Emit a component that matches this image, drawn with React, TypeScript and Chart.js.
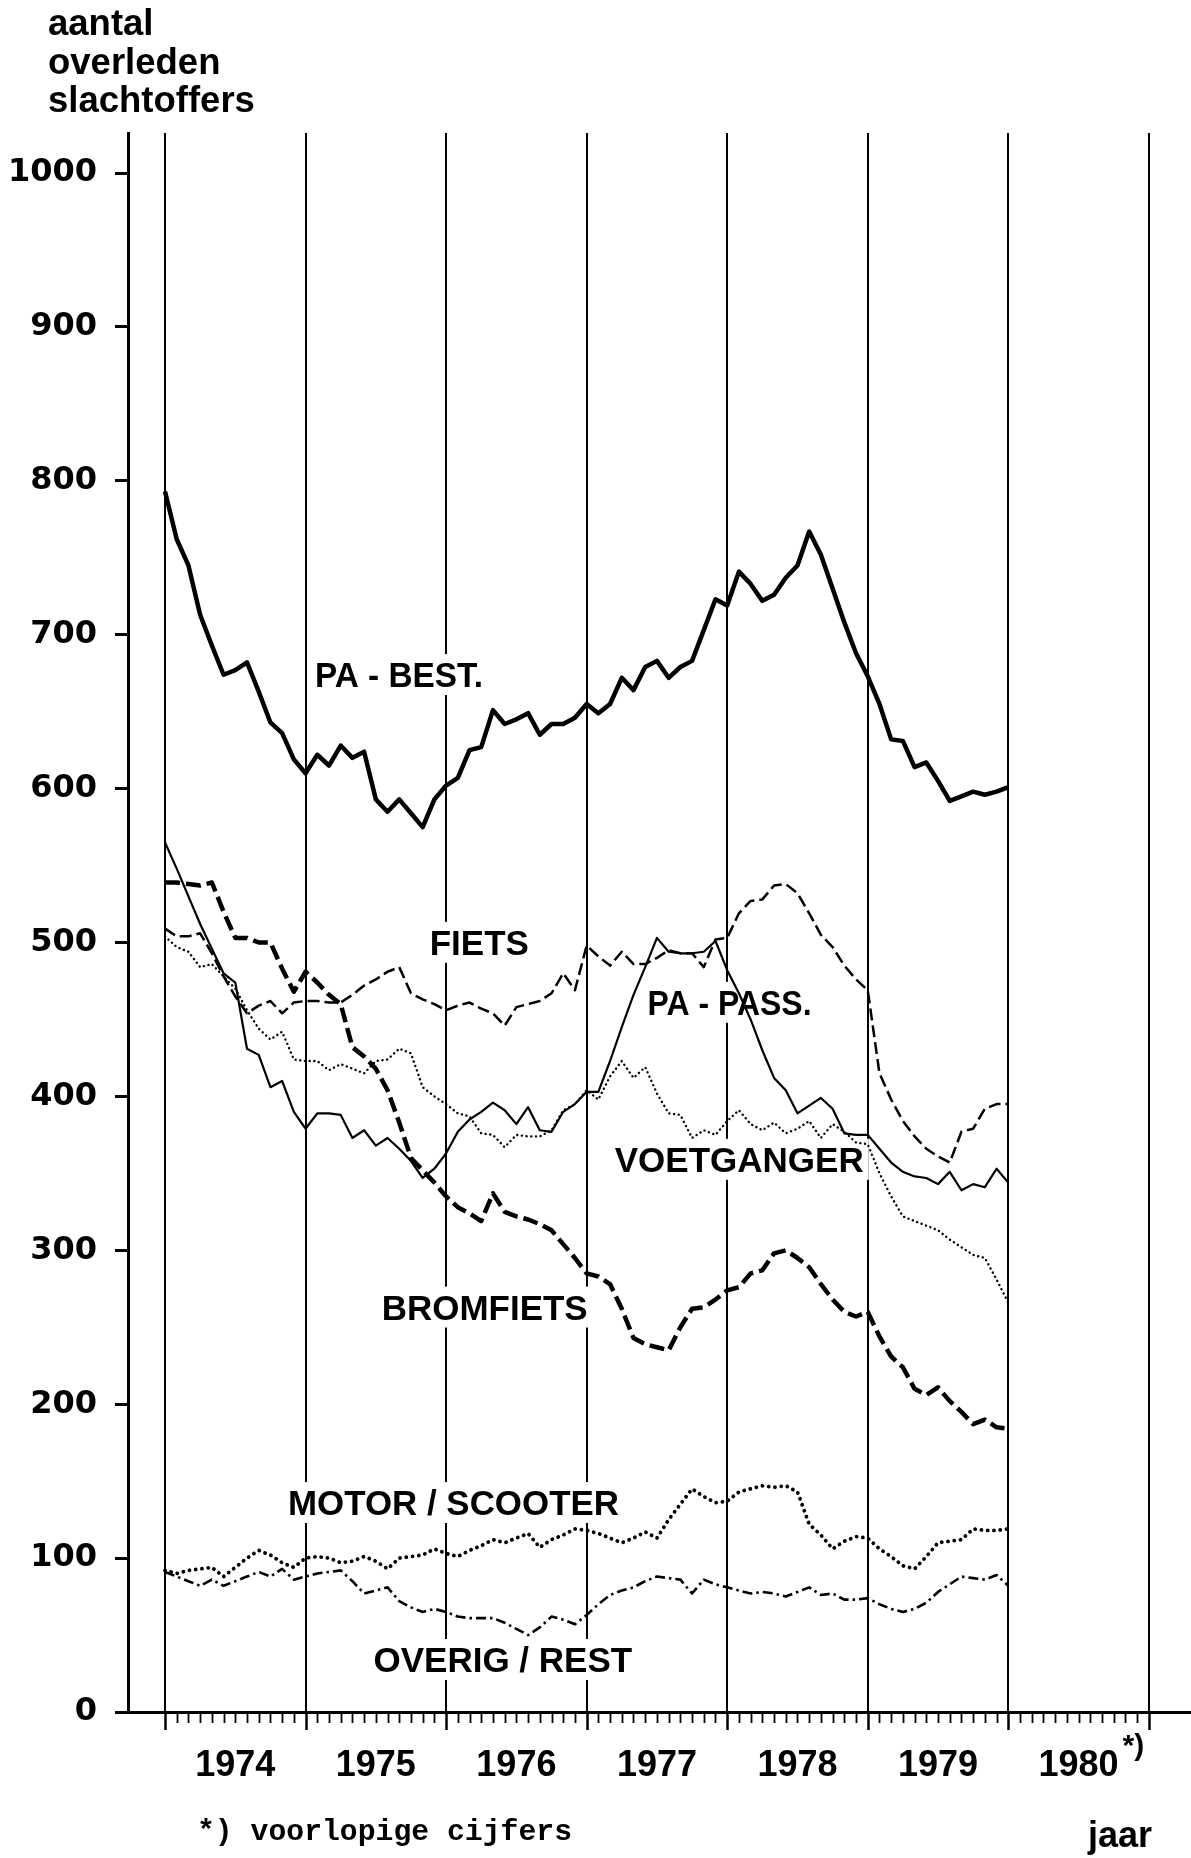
import React, { useEffect, useRef } from 'react';
import { Chart, registerables } from 'chart.js';

Chart.register(...registerables);

// months since the start of 1974 (moving yearly totals, one point per month)
const months = Array.from({ length: 73 }, (_, i) => i);
const yearLabels = ['1974', '1975', '1976', '1977', '1978', '1979', '1980'];
const yTickValues = [0, 100, 200, 300, 400, 500, 600, 700, 800, 900, 1000];

const paBest = [793, 762, 745, 713, 693, 674, 677, 682, 663, 643, 636, 619, 610, 622, 615, 628, 620, 624, 593, 585, 593, 584, 575, 593, 602, 607, 625, 627, 651, 642, 645, 649, 635, 642, 642, 646, 655, 649, 655, 672, 664, 679, 683, 672, 679, 683, 703, 723, 719, 741, 733, 722, 726, 737, 745, 767, 752, 730, 708, 688, 673, 655, 632, 631, 614, 617, 605, 592, 595, 598, 596, 598, 601];
const paPass = [565, 548, 530, 512, 496, 480, 474, 431, 427, 406, 410, 390, 379, 389, 389, 388, 373, 378, 368, 373, 366, 358, 347, 353, 363, 377, 385, 390, 396, 391, 382, 393, 378, 377, 390, 395, 403, 403, 423, 445, 466, 484, 503, 494, 493, 493, 494, 501, 482, 467, 450, 430, 412, 404, 389, 394, 399, 392, 376, 375, 375, 366, 357, 351, 348, 347, 343, 351, 339, 343, 341, 353, 344];
const fiets = [509, 504, 504, 506, 493, 478, 465, 454, 459, 462, 454, 461, 462, 462, 461, 461, 466, 472, 476, 481, 484, 467, 463, 460, 456, 459, 461, 457, 454, 446, 458, 460, 462, 467, 480, 469, 498, 491, 485, 494, 486, 486, 490, 495, 493, 493, 484, 502, 503, 519, 527, 528, 537, 538, 532, 519, 505, 497, 485, 476, 469, 415, 398, 384, 374, 366, 361, 357, 377, 379, 392, 395, 395];
const bromfiets = [539, 539, 538, 537, 539, 520, 503, 503, 500, 500, 483, 468, 481, 474, 466, 460, 432, 426, 418, 404, 383, 360, 352, 344, 335, 328, 324, 319, 337, 325, 322, 320, 317, 313, 304, 295, 285, 283, 278, 262, 243, 239, 237, 235, 250, 262, 263, 268, 274, 276, 285, 287, 298, 300, 295, 289, 278, 268, 260, 257, 260, 244, 231, 224, 210, 206, 211, 202, 195, 187, 190, 185, 184];
const voetganger = [504, 497, 494, 484, 486, 478, 470, 456, 444, 437, 442, 424, 423, 423, 417, 421, 418, 415, 423, 424, 431, 428, 406, 400, 395, 389, 387, 376, 375, 367, 375, 374, 374, 378, 391, 395, 404, 398, 413, 423, 412, 419, 402, 389, 388, 373, 378, 375, 384, 391, 382, 378, 383, 376, 379, 384, 373, 382, 377, 370, 369, 350, 335, 322, 319, 316, 313, 307, 302, 297, 295, 281, 266];
const motorScooter = [92, 90, 92, 93, 94, 88, 94, 100, 105, 102, 97, 94, 100, 101, 100, 97, 98, 101, 98, 93, 100, 101, 102, 106, 103, 101, 105, 108, 112, 110, 113, 116, 107, 112, 115, 119, 118, 116, 113, 110, 113, 117, 113, 125, 135, 145, 140, 136, 137, 143, 145, 147, 146, 147, 143, 122, 115, 106, 111, 114, 113, 106, 101, 95, 93, 101, 110, 111, 112, 119, 118, 118, 119];
const overigRest = [91, 88, 85, 82, 86, 82, 85, 88, 91, 88, 93, 86, 88, 90, 91, 92, 85, 77, 79, 81, 72, 68, 65, 67, 65, 62, 61, 61, 61, 58, 54, 50, 55, 62, 60, 57, 63, 70, 76, 79, 81, 85, 88, 87, 86, 77, 86, 83, 81, 79, 77, 78, 77, 75, 78, 81, 76, 77, 73, 73, 74, 70, 67, 65, 67, 71, 78, 83, 88, 87, 86, 89, 82];

// series name labels, anchored in data space (month, value of text baseline)
const seriesLabels = [
  { text: 'PA - BEST.', month: 12.8, value: 666, width: 168 },
  { text: 'FIETS', month: 22.6, value: 492, width: 102 },
  { text: 'PA - PASS.', month: 41.2, value: 453, width: 164 },
  { text: 'VOETGANGER', month: 38.4, value: 351, width: 249 },
  { text: 'BROMFIETS', month: 18.5, value: 255, width: 206 },
  { text: 'MOTOR / SCOOTER', month: 10.5, value: 128, width: 331 },
  { text: 'OVERIG / REST', month: 17.8, value: 26, width: 261 },
];

const titleLines = ['aantal', 'overleden', 'slachtoffers'];
const footnote = '*) voorlopige cijfers';
const xAxisName = 'jaar';

const SANS = '"Liberation Sans", Arial, Helvetica, sans-serif';
const LABEL_FONT = `bold 35px ${SANS}`;

const decorPlugin = {
  id: 'decor',
  beforeDatasetsDraw(chart: any) {
    const { ctx, chartArea } = chart;
    const x = chart.scales.x;
    const y = chart.scales.y;
    ctx.save();
    ctx.strokeStyle = '#000';
    ctx.lineWidth = 2;
    for (let k = 0; k <= 7; k++) {
      const px = Math.round(x.getPixelForValue(k * 12));
      ctx.beginPath();
      ctx.moveTo(px, chartArea.top);
      ctx.lineTo(px, chartArea.bottom);
      ctx.stroke();
    }
    // white knock-out boxes behind the series labels
    ctx.fillStyle = '#fff';
    for (const l of seriesLabels) {
      const lx = x.getPixelForValue(l.month);
      const ly = y.getPixelForValue(l.value);
      ctx.fillRect(lx - 5, ly - 33, l.width + 10, 41);
    }
    ctx.restore();
  },
  afterDraw(chart: any) {
    const { ctx, chartArea } = chart;
    const x = chart.scales.x;
    const y = chart.scales.y;
    ctx.save();
    ctx.strokeStyle = '#000';
    // month ticks under the axis
    for (let m = 0; m <= 84; m++) {
      const major = m % 12 === 0;
      const px = Math.round(x.getPixelForValue(m)) + 0.5;
      ctx.lineWidth = major ? 2.5 : 1.8;
      ctx.beginPath();
      ctx.moveTo(px, chartArea.bottom);
      ctx.lineTo(px, chartArea.bottom + (major ? 18 : 11));
      ctx.stroke();
    }
    ctx.fillStyle = '#000';
    ctx.textBaseline = 'alphabetic';
    ctx.textAlign = 'left';
    // series labels
    ctx.font = LABEL_FONT;
    for (const l of seriesLabels) {
      ctx.fillText(l.text, x.getPixelForValue(l.month), y.getPixelForValue(l.value), l.width);
    }
    // title of y axis
    ctx.font = `bold 36.5px ${SANS}`;
    titleLines.forEach((t, i) => ctx.fillText(t, 48, 35 + i * 38.5));
    // asterisk on last year label
    ctx.font = `bold 30px ${SANS}`;
    ctx.textBaseline = 'top';
    ctx.fillText('*)', x.getPixelForValue(78) + 44, chartArea.bottom + 20);
    // footnote
    ctx.textBaseline = 'alphabetic';
    ctx.font = 'bold 30px "Liberation Mono", "Courier New", monospace';
    ctx.fillText(footnote, 197, 1840, 375);
    // axis name
    ctx.font = `bold 36px ${SANS}`;
    ctx.fillText(xAxisName, 1088, 1847);
    ctx.restore();
  },
};

function line(data: number[], width: number, dash: number[], cap: string = 'butt') {
  return {
    data: months.map((m, i) => ({ x: m, y: data[i] })),
    borderColor: '#000',
    borderWidth: width,
    borderDash: dash,
    borderCapStyle: cap,
    borderJoinStyle: 'round',
    pointRadius: 0,
    tension: 0,
    fill: false,
  };
}

export default function App() {
  const ref = useRef<HTMLCanvasElement | null>(null);
  useEffect(() => {
    if (!ref.current) return;
    const chart = new Chart(ref.current, {
      type: 'line',
      data: {
        datasets: [
          line(paBest, 4.5, []),
          line(paPass, 2.2, []),
          line(fiets, 2.5, [12, 5]),
          line(bromfiets, 4.5, [15, 6]),
          line(voetganger, 2.4, [0.1, 4.6], 'round'),
          line(motorScooter, 3.8, [0.1, 6.2], 'round'),
          line(overigRest, 2.6, [10, 4, 2.5, 4]),
        ] as any,
      },
      options: {
        animation: false,
        responsive: false,
        devicePixelRatio: 1,
        layout: { padding: { top: 133, left: 0, right: 0, bottom: 0 } },
        plugins: {
          legend: { display: false },
          tooltip: { enabled: false },
          title: { display: false },
        },
        scales: {
          x: {
            type: 'linear',
            min: -3.16,
            max: 87.6,
            afterBuildTicks: (s: any) => {
              s.ticks = yearLabels.map((_, i) => ({ value: i * 12 + 6 }));
            },
            afterFit: (s: any) => {
              s.height = 146;
            },
            grid: { display: false, drawTicks: false, tickLength: 0 },
            border: { display: true, color: '#000', width: 3 },
            ticks: {
              autoSkip: false,
              maxRotation: 0,
              minRotation: 0,
              padding: 32,
              color: '#000',
              font: { family: SANS, size: 36, weight: 'bold' },
              callback: (_v: any, i: number) => yearLabels[i],
            },
          },
          y: {
            type: 'linear',
            min: 0,
            max: 1026,
            afterBuildTicks: (s: any) => {
              s.ticks = yTickValues.map((v) => ({ value: v }));
            },
            afterFit: (s: any) => {
              s.width = 128;
            },
            grid: {
              display: true,
              drawOnChartArea: false,
              drawTicks: true,
              tickLength: 13,
              tickWidth: 3,
              tickColor: '#000',
            },
            border: { display: true, color: '#000', width: 3 },
            ticks: {
              padding: 18,
              color: '#000',
              font: { family: '"DejaVu Sans", sans-serif', size: 32, weight: 'bold' },
              callback: (v: any) => String(v),
            },
          },
        },
      } as any,
      plugins: [decorPlugin],
    });
    return () => chart.destroy();
  }, []);

  return (
    <div style={{ position: 'absolute', left: 0, top: 0, width: 1191, height: 1858, background: '#fff' }}>
      <canvas ref={ref} width={1191} height={1858} style={{ display: 'block' }} />
    </div>
  );
}
